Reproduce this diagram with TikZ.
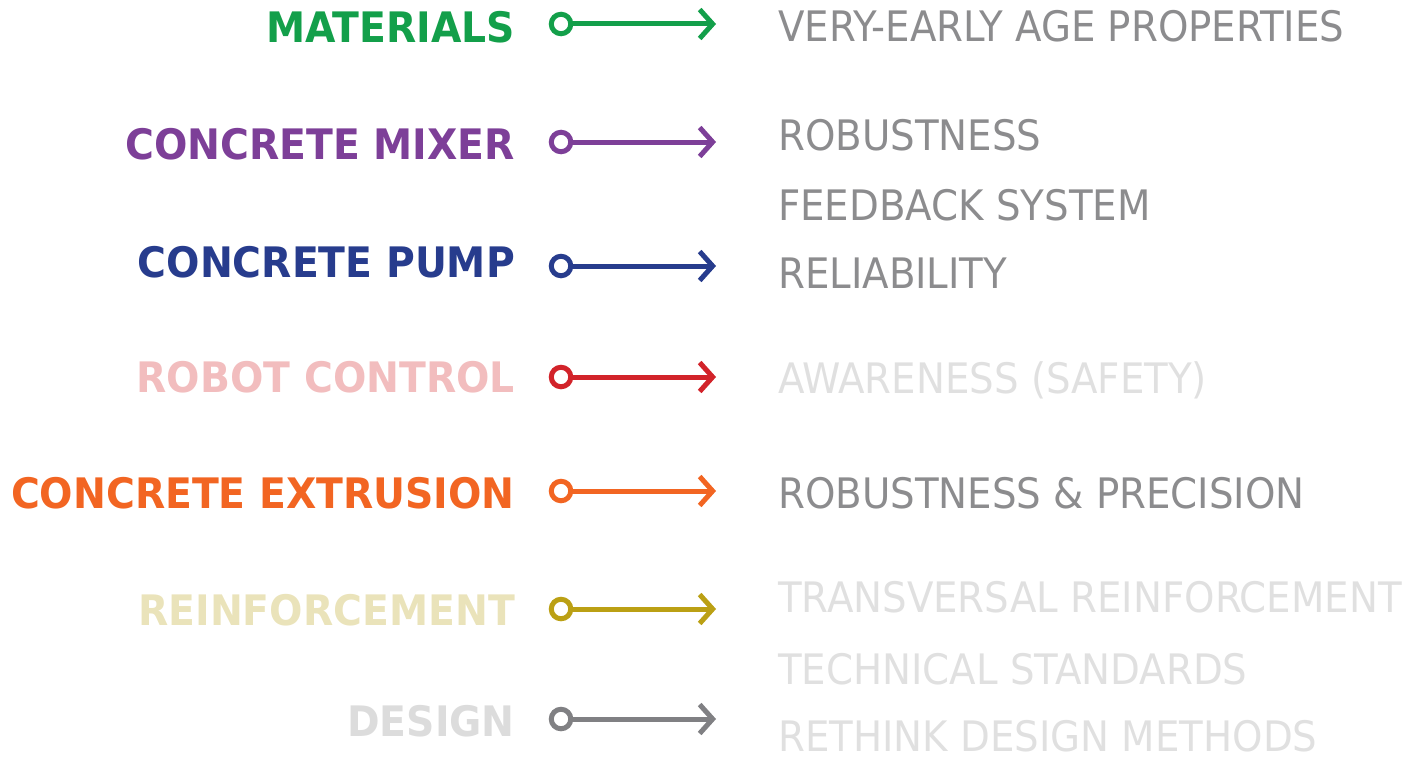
\documentclass[tikz,border=0pt]{standalone}
\usepackage{fontspec}
\setmainfont{DejaVu Sans Condensed}
\newfontfamily\leftfont[FakeStretch=1.04]{DejaVu Sans Condensed Bold}
\newfontfamily\rightfont[FakeStretch=1.025]{DejaVu Sans Condensed}
\usetikzlibrary{arrows.meta}
\definecolor{cgreen}{HTML}{139F4A}
\definecolor{cpurple}{HTML}{7D3F98}
\definecolor{cblue}{HTML}{273C8D}
\definecolor{cpinklbl}{HTML}{F2BDBE}
\definecolor{cred}{HTML}{D2232A}
\definecolor{corange}{HTML}{F26522}
\definecolor{cyellowlbl}{HTML}{EAE3BA}
\definecolor{colive}{HTML}{BBA014}
\definecolor{cgreylbl}{HTML}{DCDCDC}
\definecolor{cgreyarrow}{HTML}{808083}
\definecolor{cdark}{HTML}{8C8C8E}
\definecolor{clight}{HTML}{E0E0E0}
\tikzset{
  lbl/.style={anchor=base east, inner sep=0pt, font=\leftfont\fontsize{42}{42}\selectfont},
  res/.style={anchor=base west, inner sep=0pt, font=\rightfont\fontsize{42}{42}\selectfont},
  dotc/.style={circle, draw=#1, line width=5pt, minimum size=19.5pt, inner sep=0pt, fill=white},
  link/.style={draw=#1, line width=5pt, -{Straight Barb[length=13pt,width=29pt,line width=5pt]}}
}
\begin{document}
\begin{tikzpicture}[x=1pt,y=-1pt]
\useasboundingbox (0,0) rectangle (1412,757);
% left labels
\node[lbl, text=cgreen]     (l1) at (515,43)  {MATERIALS};
\node[lbl, text=cpurple]    (l2) at (515,159) {CONCRETE MIXER};
\node[lbl, text=cblue]      (l3) at (515,277) {CONCRETE PUMP};
\node[lbl, text=cpinklbl]   (l4) at (515,392) {ROBOT CONTROL};
\node[lbl, text=corange]    (l5) at (515,508) {CONCRETE EXTRUSION};
\node[lbl, text=cyellowlbl] (l6) at (515,625) {REINFORCEMENT};
\node[lbl, text=cgreylbl]   (l7) at (515,736) {DESIGN};
% arrows
\foreach \i/\y/\c in {1/24/cgreen,2/142/cpurple,3/266/cblue,4/377/cred,5/491/corange,6/609/colive,7/719/cgreyarrow}{
  \node[dotc=\c] (d\i) at (561,\y) {};
  \coordinate (t\i) at (716,\y);
  \draw[link=\c] (d\i.east) -- (t\i);
}
% right texts
\node[res, text=cdark]  (r1) at (778,42)  {VERY-EARLY AGE PROPERTIES};
\node[res, text=cdark]  (r2) at (778,150) {ROBUSTNESS};
\node[res, text=cdark]  (r3) at (778,220) {FEEDBACK SYSTEM};
\node[res, text=cdark]  (r4) at (778,288) {RELIABILITY};
\node[res, text=clight] (r5) at (778,393) {AWARENESS (SAFETY)};
\node[res, text=cdark]  (r6) at (778,508) {ROBUSTNESS \& PRECISION};
\node[res, text=clight] (r7) at (778,612) {TRANSVERSAL REINFORCEMENT};
\node[res, text=clight] (r8) at (778,684) {TECHNICAL STANDARDS};
\node[res, text=clight] (r9) at (778,751) {RETHINK DESIGN METHODS};
\end{tikzpicture}
\end{document}
